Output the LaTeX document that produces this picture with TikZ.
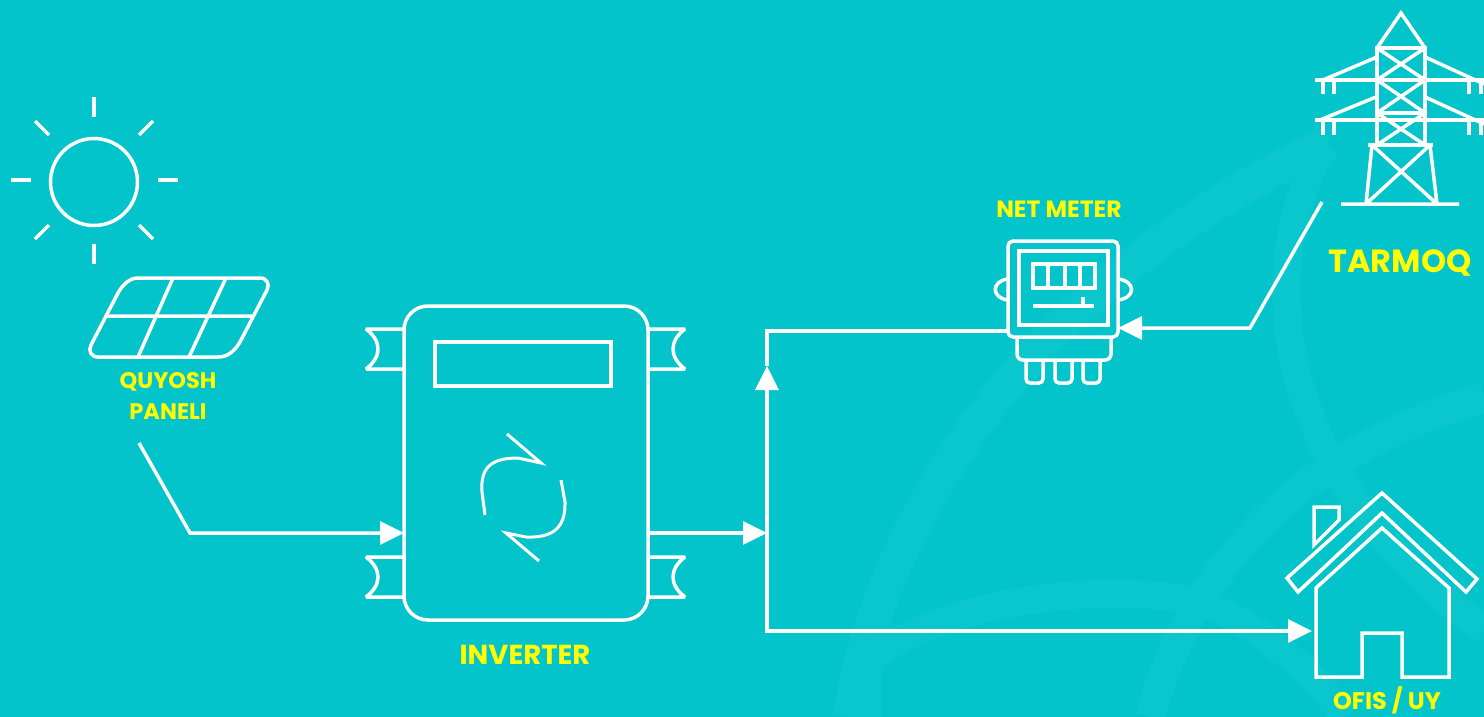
\documentclass[tikz,border=0pt]{standalone}
\usepackage{fontspec}
\setmainfont{Poppins}
\usetikzlibrary{arrows.meta,calc}
\definecolor{tealbg}{HTML}{03C3CB}
\definecolor{tealband}{HTML}{0AC7CE}
\definecolor{labelyellow}{HTML}{FFFF00}

\begin{document}
\begin{tikzpicture}[x=1pt,y=-1pt,
icon/.style={white,line width=3.5pt,line join=miter},
flow/.style={white,line width=3.5pt,-{Triangle[length=24pt,width=23pt]}},
band/.style={tealband,line width=#1},
caption/.style={labelyellow,font=\bfseries\fontsize{#1}{#1}\selectfont,inner sep=0pt},
box/.style={draw=white,line width=3.5pt,inner sep=0pt,outer sep=0pt,rounded corners=#1}]

\fill[tealbg] (0,0) rectangle (1484,717);
\useasboundingbox (0,0) rectangle (1484,717);

% faint rings behind the icons
\draw[band=34pt] (850,717) .. controls (880,520) and (1030,280) .. (1330,143);
\draw[band=30pt] (1150,717) .. controls (1190,570) and (1300,450) .. (1484,398);
\draw[band=28pt] (866,661) .. controls (960,590) and (1130,585) .. (1200,602) .. controls (1260,625) and (1310,670) .. (1345,717);
\draw[band=30pt] (866,661) -- (866,717);
\draw[band=28pt] (1325,145) .. controls (1255,260) and (1265,470) .. (1484,630);

% sun
\node[box=0pt,circle,minimum size=87pt] (sun) at (94,182) {};
\foreach \a/\b/\c/\d in {94/97/94/117,94/244/94/264,11/180/31/180,158/180/178/180,35/121/49/135,153/121/139/135,49/225/35/239,139/225/153/239}
	\draw[icon] (\a,\b) -- (\c,\d);

% solar panel
\coordinate (paneltail) at (139,443);
\draw[icon] (138,278) -- (260,278) .. controls (267,278) and (270,284) .. (267,290) -- (240,342) .. controls (234,352) and (227,357) .. (218,357) -- (98,357) .. controls (91,357) and (88,351) .. (91,345) -- (118,293) .. controls (123,284) and (130,278) .. (138,278) -- cycle;
\draw[icon] (107,316) -- (252,316) (173,278) -- (138,357) (226,278) -- (189,357);
\node[caption=22.5] (panellabel) at (168,382) {QUYOSH};
\node[caption=22.5] (panellabelb) at (168,412) {PANELI};

% inverter
\node[box=24pt,minimum width=244pt,minimum height=314pt] (inverter) at (526,463) {};
\node[box=0pt,minimum width=176pt,minimum height=44pt] (screen) at (523,364) {};
\foreach \y in {329,557} {
	\draw[icon,line join=bevel] (404,\y) -- (366,\y) .. controls (382,\y+12) and (382,\y+28) .. (366,\y+40) -- (404,\y+40);
	\draw[icon,line join=bevel] (648,\y) -- (685,\y) .. controls (669,\y+12) and (669,\y+28) .. (685,\y+40) -- (648,\y+40);
}
\draw[icon,line width=3pt] (507,434) -- (541,463) -- (518,458) .. controls (493,458) and (480,466) .. (482,492) -- (485,515);
\draw[icon,line width=3pt] (539,561) -- (506,533) -- (526,537) .. controls (550,538) and (566,530) .. (565,502) -- (561,480);
\node[caption=27.5] (inverterlabel) at (525,655) {INVERTER};

% net meter
\node[box=5pt,minimum width=110pt,minimum height=96pt] (meter) at (1063,289) {};
\node[box=0pt,minimum width=89pt,minimum height=74pt] (meterface) at (1063.5,288) {};
\node[box=0pt,minimum width=62pt,minimum height=24pt] (meterscreen) at (1064,276) {};
\draw[icon] (1048,264) -- (1048,288) (1065,264) -- (1065,288) (1080,264) -- (1080,288);
\draw[icon] (1033,306) -- (1094,306) (1083,297) -- (1083,306);
\draw[icon] (1008,279) .. controls (991,281) and (991,298) .. (1008,300);
\draw[icon] (1118,279) .. controls (1136,281) and (1136,298) .. (1118,300);
\draw[icon,rounded corners=6pt] (1017,337) -- (1017,360) -- (1111,360) -- (1111,337);
\foreach \x in {1026,1055,1083}
	\draw[icon,rounded corners=4pt] (\x,360) -- (\x,383) -- (\x+17,383) -- (\x+17,360);
\node[caption=23.5] (meterlabel) at (1059,209) {NET METER};

% pylon
\draw[icon] (1377,48) -- (1401,13) -- (1425,48);
\draw[icon] (1377,46) -- (1377,145) (1425,46) -- (1425,145);
\draw[icon] (1375,48) -- (1427,48) (1375,113) -- (1427,113) (1368,145) -- (1433,145) (1315,80) -- (1484,80) (1315,120) -- (1484,120);
\draw[icon] (1377,48) -- (1425,80) (1425,48) -- (1377,80) (1377,80) -- (1425,113) (1425,80) -- (1377,113) (1377,113) -- (1425,145) (1425,113) -- (1377,145);
\draw[icon] (1377,57) -- (1323,80) (1425,57) -- (1484,84) (1376,97) -- (1320,120) (1425,97) -- (1484,124);
\foreach \x in {1323,1334,1469,1481} {
	\draw[icon] (\x,80) -- (\x,94);
	\draw[icon] (\x,120) -- (\x,135);
}
\draw[icon] (1372,145) -- (1366,204) (1430,145) -- (1437,204) (1372,145) -- (1437,204) (1430,145) -- (1366,204) (1341,204) -- (1459,204);
\coordinate (pylontail) at (1322,202);
\node[caption=32] (pylonlabel) at (1400,263) {TARMOQ};

% house
\coordinate (housein) at (1312,631);
\draw[icon] (1382,493) -- (1477,579) -- (1466,592) -- (1382,513) -- (1298,592) -- (1287,578) -- cycle;
\draw[icon] (1382,528) -- (1449,588) -- (1449,677) -- (1402,677) -- (1402,633) -- (1362,633) -- (1362,677) -- (1316,677) -- (1316,588) -- cycle;
\draw[icon] (1314,545) -- (1314,507) -- (1339,507) -- (1339,520) -- cycle;
\node[caption=24] (houselabel) at (1387,700) {OFIS / UY};

% connectors
\coordinate (junction) at (767,533);
\coordinate (busup) at (767,366);
\coordinate (busdown) at (767,631);
\coordinate (meterin) at (meter.east |- 0,328);
\draw[flow] (paneltail) -- (190,533) -- (inverter.west |- junction);
\draw[flow] ($(inverter.east |- junction)+(2,0)$) -- (junction);
\draw[flow] (busdown) -- (busup);
\draw[icon] (busup) -- (767,331) -- (meter.west |- 0,331);
\draw[flow] (busup |- junction) -- (busdown) -- (housein);
\draw[flow] (pylontail) -- (1250,328) -- (meterin);
\end{tikzpicture}
\end{document}
